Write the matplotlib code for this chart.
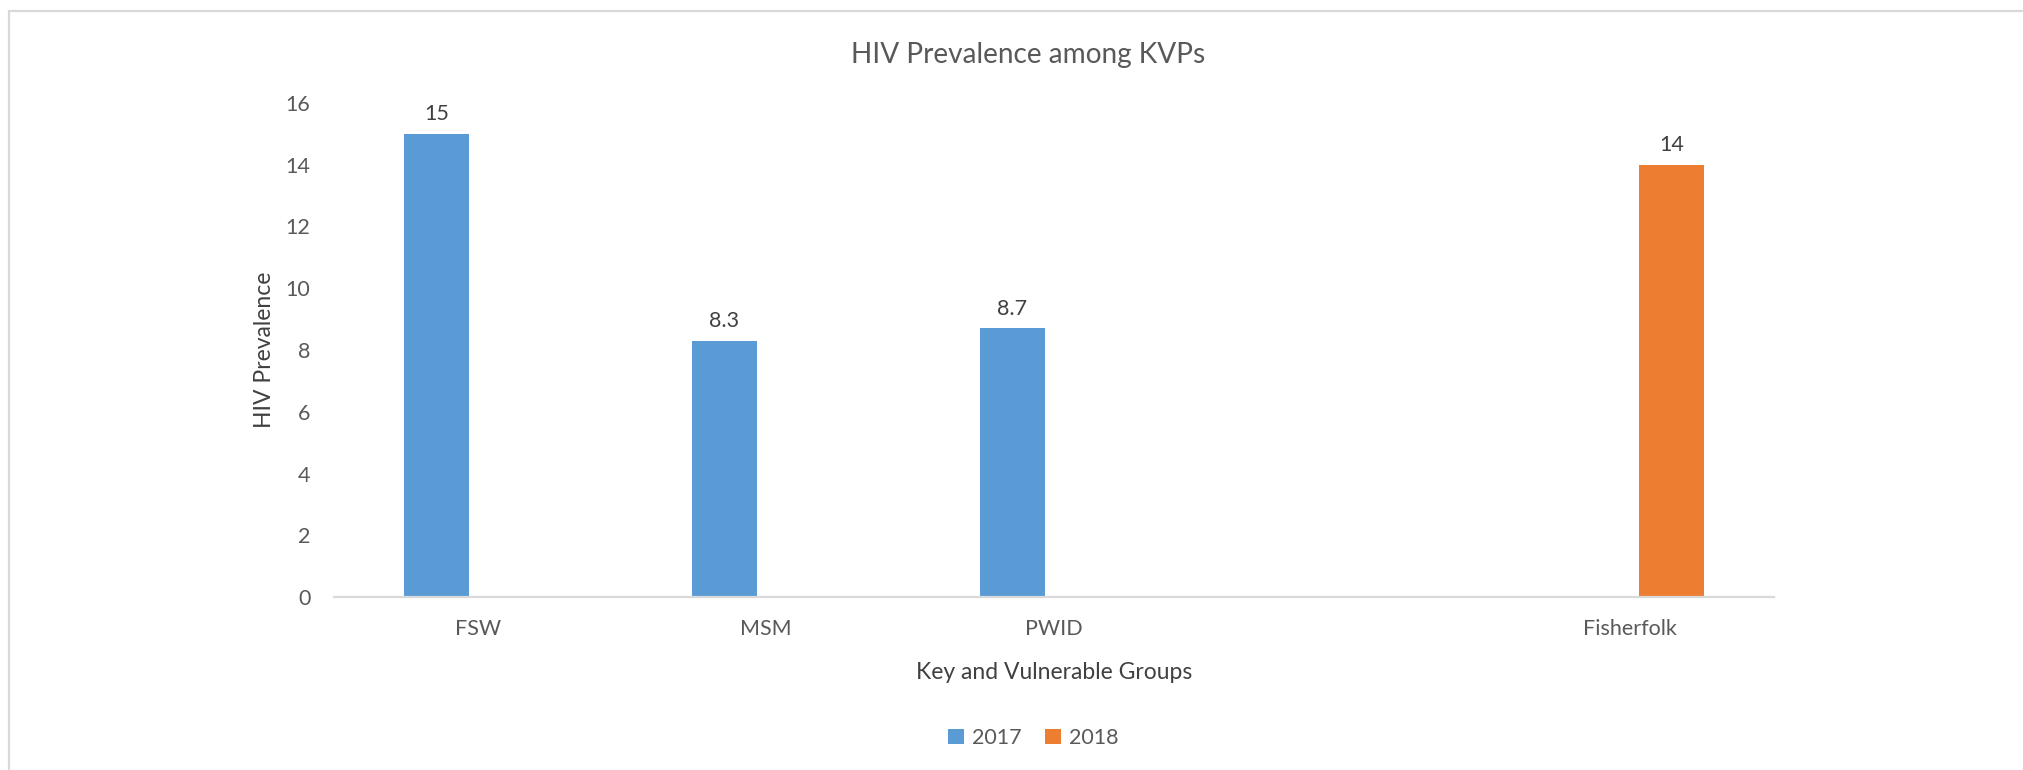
import matplotlib
matplotlib.use("Agg")
import matplotlib.pyplot as plt
import numpy as np
from matplotlib.patches import Rectangle

plt.rcParams["font.family"] = ["Lato", "DejaVu Sans"]

# data
groups = ["FSW", "MSM", "PWID", "", "Fisherfolk"]
prev_2017 = [15, 8.3, 8.7, np.nan, np.nan]
prev_2018 = [np.nan, np.nan, np.nan, np.nan, 14]
years = ["2017", "2018"]
yticks = [0, 2, 4, 6, 8, 10, 12, 14, 16]

c2017 = "#5B9BD5"
c2018 = "#ED7D31"
txt = "#595959"

W, H = 2023, 770
fig = plt.figure(figsize=(W / 100, H / 100), dpi=100)
ax = fig.add_axes([334 / W, 1 - 597 / H, 1440 / W, 494 / H])

x = np.arange(len(groups))
bw = 65 / 288
off = 41.5 / 288

for vals, sign, col, lab in [(prev_2017, -1, c2017, years[0]), (prev_2018, 1, c2018, years[1])]:
    vals = np.array(vals, dtype=float)
    ok = ~np.isnan(vals)
    bars = ax.bar(x[ok] + sign * off, vals[ok], width=bw, color=col, label=lab, zorder=2)
    ax.bar_label(bars, fmt="%g", padding=7, fontsize=15.5, color="#404040")

ax.set_xlim(-0.5, len(groups) - 0.5)
ax.set_ylim(0, 16)
ax.set_yticks(yticks)
ax.set_xticks(x)
ax.set_xticklabels(groups)
ax.tick_params(axis="both", length=0, labelsize=15.5, labelcolor=txt)
ax.tick_params(axis="y", pad=17)
ax.tick_params(axis="x", pad=16)

# hide bordure except the bottom line
for s in ["top", "right", "left"]:
    ax.spines[s].set_visible(False)
ax.spines["bottom"].set_color("#D9D9D9")
ax.spines["bottom"].set_linewidth(1.6)

ax.set_xlabel("Key and Vulnerable Groups", fontsize=16.5, color="#404040")
ax.xaxis.set_label_coords(0.5, -0.152)
ax.xaxis.label.set_va("center")
ax.set_ylabel("HIV Prevalence", fontsize=16.5, color="#404040")
ax.yaxis.set_label_coords(-0.048, 0.5)
ax.yaxis.label.set_va("center")

fig.text(1028 / W, 1 - 63 / H, "HIV Prevalence among KVPs", fontsize=20.2,
         color=txt, ha="center", va="baseline")

leg = fig.legend(loc="center", bbox_to_anchor=(1033 / W, 1 - 738 / H), ncol=2,
                 frameon=False, fontsize=15.5, handlelength=0.75, handleheight=0.75,
                 handletextpad=0.35, columnspacing=1.1)
for t in leg.get_texts():
    t.set_color(txt)

# chart area border (only left and top visible)
fig.patches.append(Rectangle((9 / W, -0.1), 1.2, 1.1 - 11 / H, transform=fig.transFigure,
                             fill=False, edgecolor="#D9D9D9", linewidth=1.6))

fig.savefig("out.png", dpi=100)
